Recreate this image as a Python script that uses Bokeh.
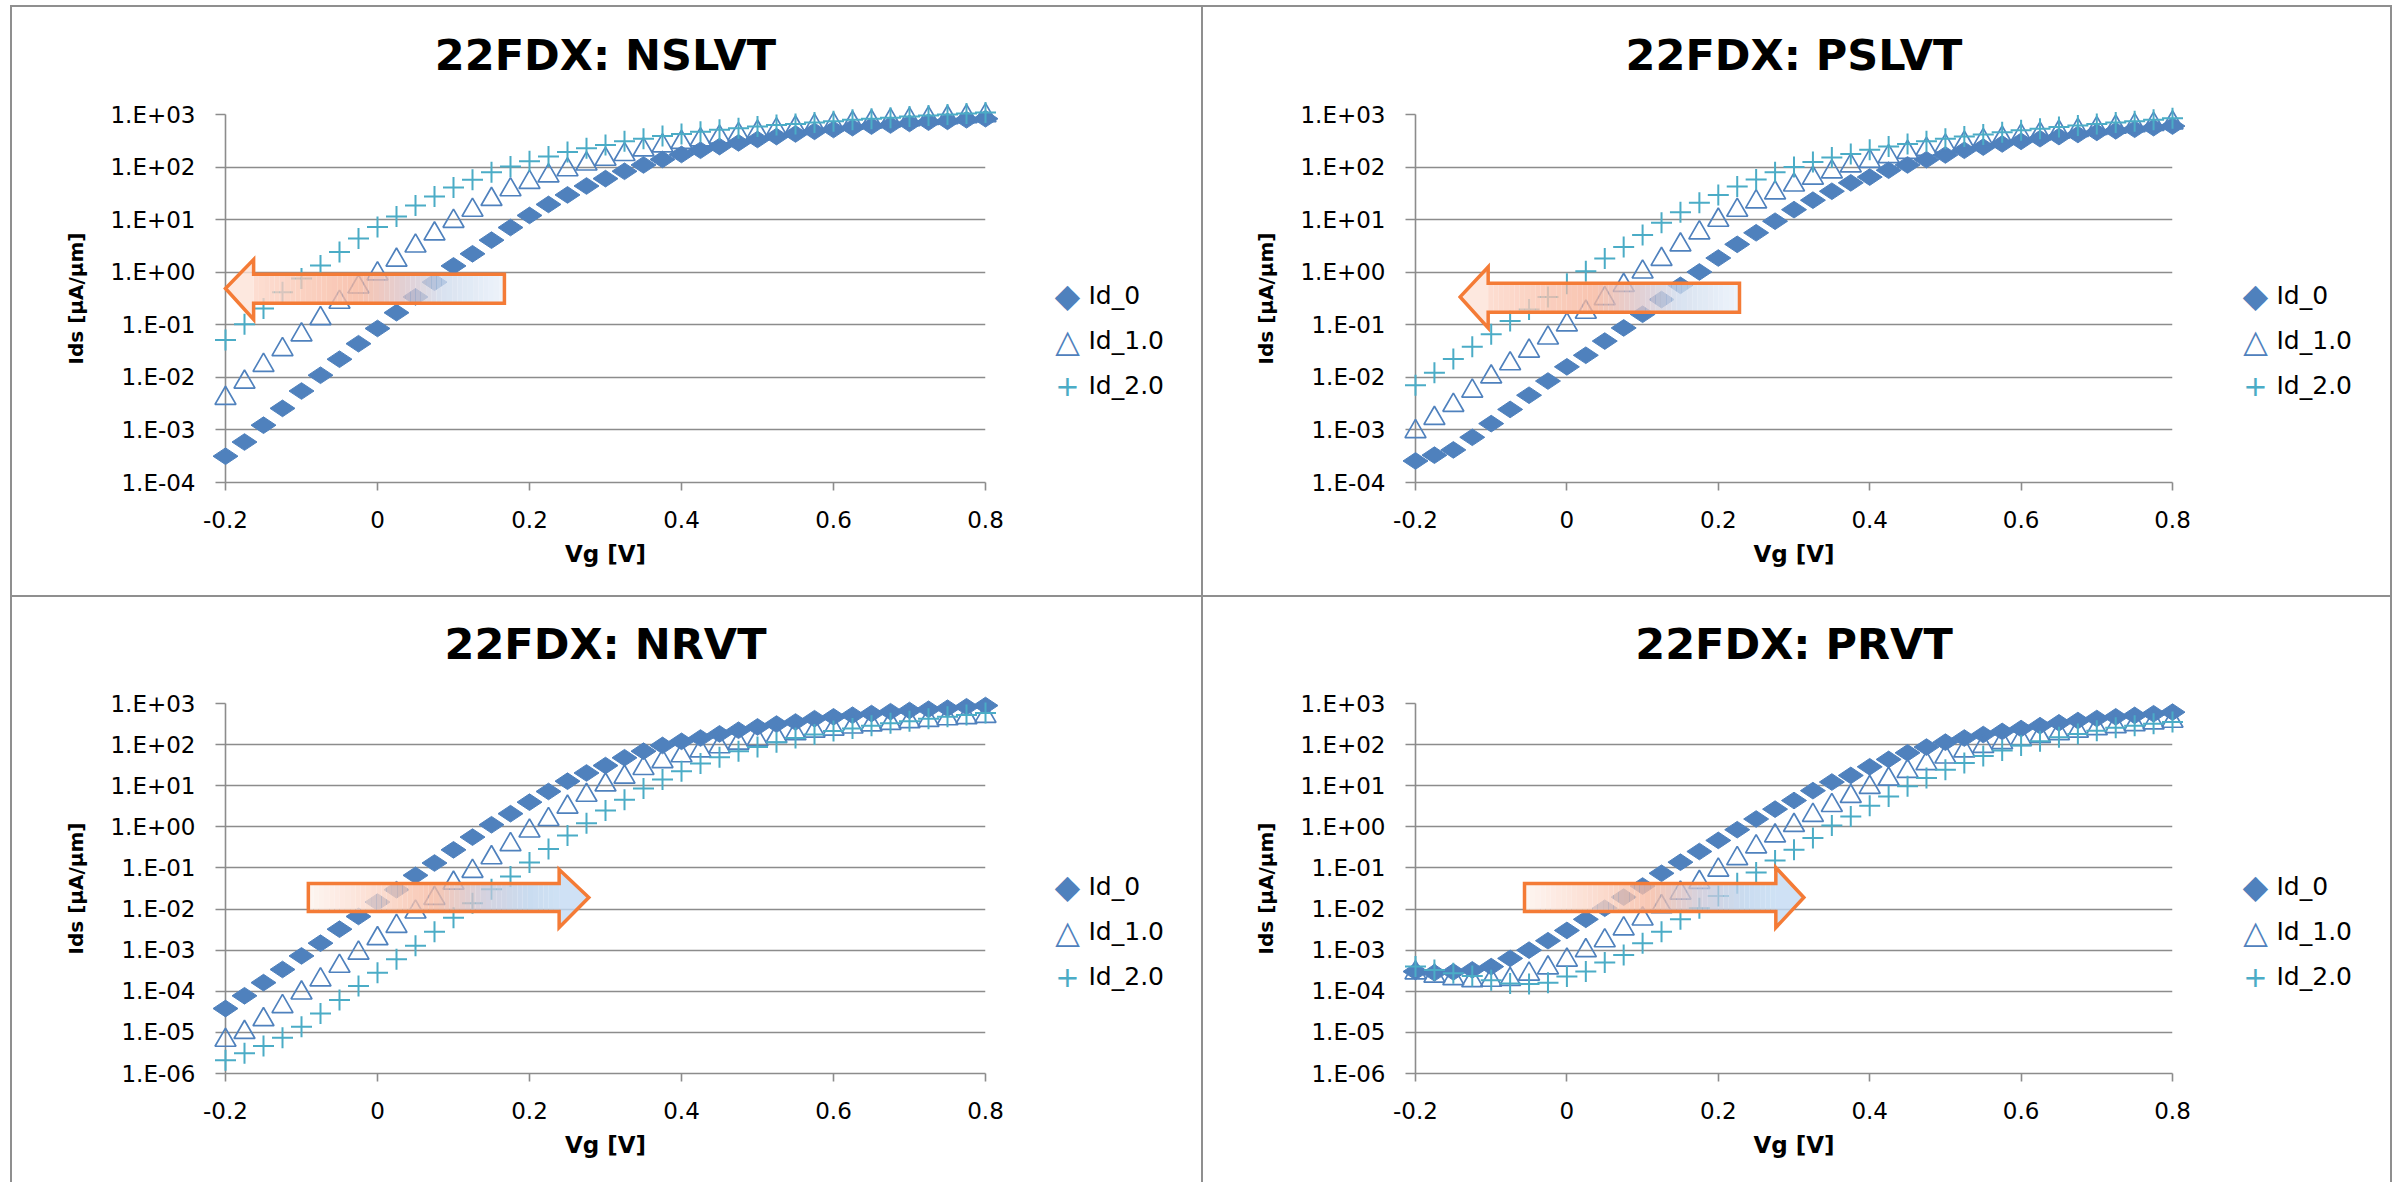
import math
from bokeh.plotting import figure
from bokeh.layouts import row, column
from bokeh.models import Spacer, FixedTicker, CustomJSTickFormatter
from bokeh.core.properties import value
from bokeh.embed import file_html
from bokeh.resources import INLINE

# ---------------- data ----------------
vg = [-0.2, -0.175, -0.15, -0.125, -0.1, -0.075, -0.05, -0.025, 0.0,
      0.025, 0.05, 0.075, 0.1, 0.125, 0.15, 0.175, 0.2, 0.225, 0.25, 0.275,
      0.3, 0.325, 0.35, 0.375, 0.4, 0.425, 0.45, 0.475, 0.5, 0.525, 0.55,
      0.575, 0.6, 0.625, 0.65, 0.675, 0.7, 0.725, 0.75, 0.775, 0.8]

series_names = ["Id_0", "Id_1.0", "Id_2.0"]
panel_titles = ["22FDX: NSLVT", "22FDX: PSLVT", "22FDX: NRVT", "22FDX: PRVT"]
x_title = "Vg [V]"
y_title = "Ids [µA/µm]"

# log10 of Ids [uA/um]
nslvt_id0 = [-3.50, -3.23, -2.91, -2.59, -2.26, -1.96, -1.655, -1.36, -1.07, -0.77,
             -0.47, -0.19, 0.12, 0.35, 0.61, 0.85, 1.08, 1.29, 1.47, 1.64,
             1.78, 1.92, 2.04, 2.145, 2.24, 2.32, 2.39, 2.46, 2.525, 2.58,
             2.63, 2.68, 2.715, 2.75, 2.78, 2.80, 2.83, 2.855, 2.87, 2.90, 2.92]
nslvt_id1 = [-2.40, -2.09, -1.77, -1.47, -1.19, -0.88, -0.57, -0.28, -0.03, 0.23,
             0.50, 0.73, 0.97, 1.18, 1.385, 1.57, 1.71, 1.835, 1.95, 2.06,
             2.15, 2.24, 2.33, 2.405, 2.47, 2.52, 2.57, 2.62, 2.665, 2.71,
             2.745, 2.78, 2.81, 2.835, 2.86, 2.885, 2.905, 2.925, 2.94, 2.96, 2.98]
nslvt_id2 = [-1.29, -0.99, -0.69, -0.38, -0.12, 0.13, 0.385, 0.64, 0.86, 1.06,
             1.27, 1.44, 1.61, 1.76, 1.90, 2.01, 2.11, 2.20, 2.285, 2.36,
             2.42, 2.49, 2.54, 2.59, 2.63, 2.67, 2.71, 2.74, 2.77, 2.80,
             2.82, 2.85, 2.87, 2.90, 2.92, 2.94, 2.96, 2.98, 3.00, 3.02, 3.04]

pslvt_id0 = [-3.59, -3.48, -3.38, -3.14, -2.88, -2.61, -2.34, -2.07, -1.80, -1.58,
             -1.31, -1.06, -0.80, -0.52, -0.25, 0.005, 0.27, 0.53, 0.75, 0.97,
             1.19, 1.37, 1.54, 1.70, 1.81, 1.94, 2.04, 2.14, 2.23, 2.32,
             2.38, 2.44, 2.49, 2.54, 2.58, 2.62, 2.66, 2.69, 2.72, 2.75, 2.78]
pslvt_id1 = [-3.03, -2.78, -2.53, -2.26, -1.99, -1.74, -1.50, -1.25, -1.00, -0.76,
             -0.50, -0.25, 0.005, 0.245, 0.52, 0.75, 0.99, 1.18, 1.34, 1.51,
             1.66, 1.79, 1.91, 2.025, 2.11, 2.20, 2.28, 2.34, 2.40, 2.455,
             2.505, 2.55, 2.595, 2.63, 2.665, 2.70, 2.735, 2.76, 2.79, 2.815, 2.84]
pslvt_id2 = [-2.15, -1.91, -1.65, -1.42, -1.18, -0.93, -0.71, -0.47, -0.22, 0.02,
             0.26, 0.48, 0.71, 0.94, 1.14, 1.32, 1.47, 1.63, 1.765, 1.90,
             2.00, 2.095, 2.18, 2.25, 2.33, 2.39, 2.44, 2.49, 2.54, 2.58,
             2.62, 2.66, 2.70, 2.73, 2.76, 2.79, 2.82, 2.85, 2.87, 2.90, 2.93]

nrvt_id0 = [-4.42, -4.11, -3.79, -3.47, -3.14, -2.83, -2.49, -2.18, -1.83, -1.53,
            -1.18, -0.88, -0.56, -0.25, 0.05, 0.32, 0.60, 0.86, 1.11, 1.31,
            1.49, 1.68, 1.84, 1.98, 2.08, 2.16, 2.26, 2.35, 2.43, 2.50,
            2.55, 2.63, 2.675, 2.715, 2.755, 2.80, 2.83, 2.86, 2.885, 2.92, 2.95]
nrvt_id1 = [-5.19, -5.00, -4.69, -4.37, -4.04, -3.72, -3.39, -3.07, -2.72, -2.42,
            -2.07, -1.74, -1.37, -1.08, -0.75, -0.43, -0.10, 0.18, 0.48, 0.77,
            1.02, 1.21, 1.42, 1.59, 1.73, 1.85, 1.95, 2.04, 2.12, 2.20,
            2.27, 2.33, 2.38, 2.43, 2.48, 2.52, 2.56, 2.59, 2.63, 2.66, 2.69]
nrvt_id2 = [-5.68, -5.51, -5.33, -5.13, -4.86, -4.54, -4.21, -3.87, -3.55, -3.22,
            -2.89, -2.55, -2.21, -1.86, -1.52, -1.21, -0.87, -0.54, -0.21, 0.09,
            0.40, 0.66, 0.93, 1.15, 1.35, 1.54, 1.69, 1.84, 1.94, 2.06,
            2.16, 2.245, 2.33, 2.39, 2.46, 2.52, 2.57, 2.63, 2.675, 2.72, 2.77]

prvt_id0 = [-3.52, -3.55, -3.53, -3.48, -3.40, -3.20, -3.00, -2.77, -2.52, -2.25,
            -1.98, -1.71, -1.44, -1.13, -0.86, -0.60, -0.33, -0.07, 0.19, 0.43,
            0.64, 0.88, 1.09, 1.25, 1.46, 1.64, 1.80, 1.94, 2.06, 2.16,
            2.245, 2.32, 2.39, 2.46, 2.53, 2.585, 2.635, 2.675, 2.71, 2.75, 2.79]
prvt_id1 = [-3.55, -3.63, -3.69, -3.74, -3.73, -3.71, -3.58, -3.43, -3.24, -3.01,
            -2.77, -2.48, -2.24, -1.94, -1.61, -1.35, -1.05, -0.77, -0.485, -0.22,
            0.035, 0.28, 0.52, 0.74, 0.96, 1.16, 1.35, 1.54, 1.70, 1.85,
            1.96, 2.05, 2.13, 2.20, 2.27, 2.33, 2.39, 2.44, 2.49, 2.53, 2.57]
prvt_id2 = [-3.40, -3.48, -3.56, -3.63, -3.73, -3.81, -3.82, -3.79, -3.64, -3.52,
            -3.30, -3.12, -2.83, -2.55, -2.25, -1.98, -1.68, -1.37, -1.11, -0.82,
            -0.56, -0.27, 0.03, 0.25, 0.51, 0.74, 0.99, 1.19, 1.39, 1.55,
            1.72, 1.855, 1.98, 2.08, 2.18, 2.26, 2.34, 2.41, 2.46, 2.51, 2.55]

x_ticks = [-0.2, 0.0, 0.2, 0.4, 0.6, 0.8]
x_tick_labels = ["-0.2", "0", "0.2", "0.4", "0.6", "0.8"]
y_ticks_slvt = [1e-4, 1e-3, 1e-2, 1e-1, 1e0, 1e1, 1e2, 1e3]
y_labels_slvt = ["1.E-04", "1.E-03", "1.E-02", "1.E-01", "1.E+00", "1.E+01", "1.E+02", "1.E+03"]
y_ticks_rvt = [1e-6, 1e-5, 1e-4, 1e-3, 1e-2, 1e-1, 1e0, 1e1, 1e2, 1e3]
y_labels_rvt = ["1.E-06", "1.E-05", "1.E-04", "1.E-03", "1.E-02", "1.E-01", "1.E+00", "1.E+01", "1.E+02", "1.E+03"]

# ---------------- styles ----------------
BLUE = "#4f81bd"
AQUA = "#4bacc6"
GRID = "#8c8c8c"
FRAME = "#8f8f8f"
ORANGE = "#f47b36"
FONT = "DejaVu Sans"

LEFT_STOPS = [(0.0, "#fcd5c6"), (0.42, "#f7b59c"), (0.6, "#dac3c9"), (0.76, "#cfdbec"), (1.0, "#e9f1fa")]
RIGHT_STOPS = [(0.0, "#fdf3ee"), (0.3, "#fad2c2"), (0.5, "#f6b9a1"), (0.7, "#cac7d7"), (0.88, "#bcd3ec"), (1.0, "#c3daf2")]


def hex2rgb(h):
    return tuple(int(h[i:i + 2], 16) for i in (1, 3, 5))


def grad(stops, t):
    for (t0, c0), (t1, c1) in zip(stops, stops[1:]):
        if t <= t1:
            f = (t - t0) / (t1 - t0)
            a, b = hex2rgb(c0), hex2rgb(c1)
            return "#%02x%02x%02x" % tuple(int(round(a[k] + (b[k] - a[k]) * f)) for k in range(3))
    return stops[-1][1]


def nearest_formatter(tick_vals, tick_texts, log):
    code = """
    let best = 0, bd = Infinity;
    for (let i = 0; i < tvals.length; i++) {
      const d = LOGMODE ? Math.abs(Math.log10(tvals[i]) - Math.log10(tick)) : Math.abs(tvals[i] - tick);
      if (d < bd) { bd = d; best = i; }
    }
    return ttexts[best];
    """.replace("LOGMODE", "true" if log else "false")
    return CustomJSTickFormatter(args=dict(tvals=tick_vals, ttexts=tick_texts), code=code)


def draw_arrow(p, a, stops, head_color):
    lo, hi = min(a["base"], a["end"]), max(a["base"], a["end"])
    n = 48
    lefts = [lo + (hi - lo) * i / n for i in range(n)]
    rights = [lo + (hi - lo) * (i + 1) / n for i in range(n)]
    cols = [grad(stops, (i + 0.5) / n) for i in range(n)]
    p.quad(left=lefts, right=rights, bottom=10 ** a["body_bot"], top=10 ** a["body_top"],
           fill_color=cols, fill_alpha=0.8, line_color=None, level="overlay")
    p.patch([a["tip"], a["base"], a["base"]],
            [10 ** a["tip_y"], 10 ** a["head_top"], 10 ** a["head_bot"]],
            fill_color=head_color, fill_alpha=0.8, line_color=None, level="overlay")
    px = [a["tip"], a["base"], a["base"], a["end"], a["end"], a["base"], a["base"]]
    py = [a["tip_y"], a["head_top"], a["body_top"], a["body_top"], a["body_bot"], a["body_bot"], a["head_bot"]]
    p.patch(px, [10 ** v for v in py], fill_color=None, line_color=ORANGE, line_width=3.5,
            line_join="miter", level="overlay")


def make_panel(title, logs, yt, ytl, fig_w, fig_h, b_left, b_top, f_w, f_h, arrow, stops,
               head_color, leg_dx):
    b_right = fig_w - b_left - f_w
    b_bottom = fig_h - b_top - f_h
    p = figure(frame_width=f_w, frame_height=f_h,
               min_border_left=b_left, min_border_right=b_right,
               min_border_top=b_top, min_border_bottom=b_bottom,
               x_range=(-0.2, 0.8), y_range=(yt[0], yt[-1]), y_axis_type="log",
               output_backend="svg", toolbar_location=None,
               background_fill_color="white", border_fill_color="white",
               outline_line_color=None)

    ids = [[10 ** v for v in s] for s in logs]
    p.scatter(vg, ids[0], marker="diamond", angle=math.pi / 2, size=25,
              fill_color=BLUE, line_color=BLUE, level="overlay")
    p.scatter(vg, ids[1], marker="triangle", size=21, fill_color=None,
              line_color=BLUE, line_width=1.7, level="overlay")
    p.scatter(vg, ids[2], marker="cross", size=21, line_color=AQUA,
              line_width=2, level="overlay")

    draw_arrow(p, arrow, stops, head_color)

    # axes
    p.xaxis.ticker = FixedTicker(ticks=x_ticks, minor_ticks=[])
    p.xaxis.formatter = nearest_formatter(x_ticks, x_tick_labels, False)
    p.yaxis.ticker = FixedTicker(ticks=yt, minor_ticks=[])
    p.yaxis.formatter = nearest_formatter(yt, ytl, True)
    for ax in (p.xaxis, p.yaxis):
        ax.axis_line_color = GRID
        ax.axis_line_width = 1.6
        ax.major_tick_line_color = GRID
        ax.major_tick_line_width = 1.6
        ax.major_tick_in = 0
        ax.minor_tick_line_color = None
        ax.major_label_text_font = FONT
        ax.major_label_text_font_size = "23px"
        ax.major_label_text_color = "#000000"
    p.yaxis.major_tick_out = 10
    p.yaxis.major_label_standoff = 20
    p.xaxis.major_tick_out = 8
    p.xaxis.major_label_standoff = 20
    p.xgrid.visible = False
    p.ygrid.grid_line_color = GRID
    p.ygrid.grid_line_width = 1.6

    # texts and legend, placed as glyphs just outside the frame (by pixel offsets)
    lo_e, hi_e = math.log10(yt[0]), math.log10(yt[-1])

    def xa(dx):
        return -0.2 + dx / f_w

    def ya(dy):
        return 10 ** (lo_e + dy / f_h * (hi_e - lo_e))

    p.text(x=[xa(f_w / 2)], y=[ya(f_h + 60)], text=[title], text_font=value(FONT),
           text_font_style="bold", text_font_size=value("43px"), text_align="center",
           text_baseline="middle", text_color="#000000", level="overlay")
    p.text(x=[xa(-150)], y=[ya(f_h / 2)], text=[y_title], angle=math.pi / 2,
           text_font=value(FONT), text_font_style="bold", text_font_size=value("20px"),
           text_align="center", text_baseline="middle", text_color="#000000", level="overlay")
    p.text(x=[xa(f_w / 2)], y=[ya(-71)], text=[x_title], text_font=value(FONT),
           text_font_style="bold", text_font_size=value("23px"), text_align="center",
           text_baseline="middle", text_color="#000000", level="overlay")

    # legend: symbol glyphs + labels
    rows_dy = [187, 142, 97]
    mx = xa(leg_dx)
    p.text(x=[mx], y=[ya(rows_dy[0])], text=["◆"], text_font=value(FONT),
           text_font_size=value("33px"), text_align="center", text_baseline="middle",
           text_color=BLUE, level="overlay")
    p.text(x=[mx], y=[ya(rows_dy[1])], text=["△"], text_font=value(FONT),
           text_font_size=value("32px"), text_align="center", text_baseline="middle",
           text_color=BLUE, level="overlay")
    p.text(x=[mx], y=[ya(rows_dy[2])], text=["+"], text_font=value(FONT),
           text_font_size=value("29px"), text_align="center", text_baseline="middle",
           text_color=AQUA, level="overlay")
    p.text(x=[xa(leg_dx + 21)] * 3, y=[ya(d) for d in rows_dy], text=series_names,
           text_font=value(FONT), text_font_size=value("25px"), text_align="left",
           text_baseline="middle", text_color="#000000", level="overlay")
    return p


arrow_nslvt = dict(tip=-0.2, tip_y=-0.31, base=-0.163, end=0.167, body_top=-0.04, body_bot=-0.59,
                   head_top=0.24, head_bot=-0.90)
arrow_pslvt = dict(tip=-0.141, tip_y=-0.47, base=-0.104, end=0.228, body_top=-0.21, body_bot=-0.76,
                   head_top=0.10, head_bot=-1.06)
arrow_nrvt = dict(tip=0.278, tip_y=-1.72, base=0.239, end=-0.091, body_top=-1.38, body_bot=-2.06,
                  head_top=-1.04, head_bot=-2.45)
arrow_prvt = dict(tip=0.313, tip_y=-1.72, base=0.276, end=-0.056, body_top=-1.38, body_bot=-2.06,
                  head_top=-0.99, head_bot=-2.45)

H1, H2 = 588, 585
W1, W2 = 1189, 1187

tl = make_panel(panel_titles[0], [nslvt_id0, nslvt_id1, nslvt_id2], y_ticks_slvt, y_labels_slvt,
                W1, H1, 213, 107, 760, 368, arrow_nslvt, LEFT_STOPS, "#fde2d7", 842)
tr = make_panel(panel_titles[1], [pslvt_id0, pslvt_id1, pslvt_id2], y_ticks_slvt, y_labels_slvt,
                W2, H1, 212, 107, 757, 368, arrow_pslvt, LEFT_STOPS, "#fde2d7", 840)
bl = make_panel(panel_titles[2], [nrvt_id0, nrvt_id1, nrvt_id2], y_ticks_rvt, y_labels_rvt,
                W1, H2, 213, 106, 760, 370, arrow_nrvt, RIGHT_STOPS, "#c3daf2", 842)
br = make_panel(panel_titles[3], [prvt_id0, prvt_id1, prvt_id2], y_ticks_rvt, y_labels_rvt,
                W2, H2, 212, 106, 757, 370, arrow_prvt, RIGHT_STOPS, "#c3daf2", 840)


def bar(w, h):
    return Spacer(width=w, height=h, styles={"background-color": FRAME})


def blank(w, h):
    return Spacer(width=w, height=h)


def hline():
    return row(blank(10, 2), bar(2382, 2), blank(13, 2), spacing=0)


def prow(a, b, h):
    return row(blank(10, h), bar(2, h), a, bar(2, h), b, bar(2, h), blank(13, h), spacing=0)


page = column(blank(2405, 5), hline(), prow(tl, tr, H1), hline(), prow(bl, br, H2), spacing=0)

open("out.html", "w").write(file_html(page, INLINE))
